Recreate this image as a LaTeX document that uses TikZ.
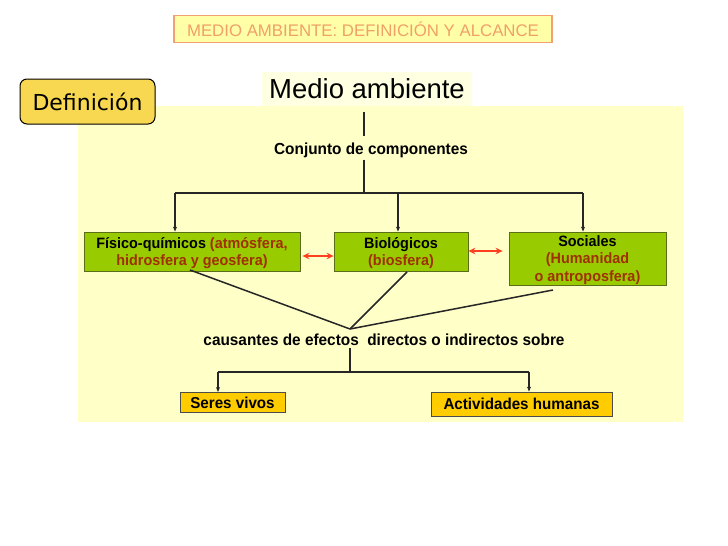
\documentclass[tikz,border=0pt]{standalone}
\usepackage{fontspec}
\setmainfont{Liberation Sans}
\newfontfamily\widebf[FakeStretch=0.96]{Liberation Sans Bold}
\newfontfamily\comicfont{DejaVu Sans}
\usetikzlibrary{arrows.meta}
\definecolor{titlefill}{HTML}{FFFFA8}
\definecolor{titleline}{HTML}{F2A070}
\definecolor{titletext}{HTML}{F0A068}
\definecolor{bgyellow}{HTML}{FFFFC8}
\definecolor{medfill}{HTML}{FFFFE2}
\definecolor{defgold}{HTML}{F8D850}
\definecolor{boxgreen}{HTML}{99CC00}
\definecolor{greenline}{HTML}{5A6E1A}
\definecolor{brownred}{HTML}{A03000}
\definecolor{redarrow}{HTML}{FF4020}
\definecolor{goldbox}{HTML}{FFCC00}
\tikzset{
  greenbox/.style={draw=greenline, fill=boxgreen, line width=0.8pt, inner sep=0pt, align=center, text depth=0pt, font=\widebf\fontsize{15}{16.8}\selectfont},
  goldrect/.style={draw=black!70, fill=goldbox, line width=0.8pt, inner sep=0pt, font=\widebf\fontsize{15.8}{17}\selectfont},
  conn/.style={line width=1.5pt, black!85},
  arr/.style={line width=1.5pt, black!85, -{Stealth[length=5pt,width=4pt]}},
  redarr/.style={line width=1.8pt, redarrow, {Stealth[length=7pt,width=6.5pt]}-{Stealth[length=7pt,width=6.5pt]}},
  plain/.style={font=\widebf\fontsize{16}{18}\selectfont, inner sep=1pt},
}
\begin{document}
\begin{tikzpicture}[x=1pt,y=-1pt]
\useasboundingbox (0,0) rectangle (728,546);
\fill[white] (0,0) rectangle (728,546);
% title
\node[draw=titleline, fill=titlefill, line width=1.5pt, minimum width=378pt, minimum height=27pt, inner sep=0pt, text=titletext, font=\fontsize{16.8}{18}\selectfont] (title) at (363,29) {MEDIO AMBIENTE: DEFINICIÓN Y ALCANCE};
% background
\fill[bgyellow] (78,106) rectangle (683,422);
\node[fill=medfill, minimum width=210pt, minimum height=34pt, inner sep=0pt, font=\fontsize{27.5}{30}\selectfont] (medio) at (367,89) {Medio ambiente};
% Definicion
\node[draw=black, fill=defgold, rounded corners=7pt, line width=1pt, minimum width=135pt, minimum height=45pt, inner sep=0pt, font=\comicfont\fontsize{22}{24}\selectfont] (def) at (87.5,101.5) {Definición};
% Conjunto
\node[plain] (conj) at (371,150) {Conjunto de componentes};
\coordinate (top1) at (364,112);
\coordinate (top2) at (364,136);
\draw[conn] (top1) -- (top2);
% boxes
\node[greenbox, minimum width=216pt, minimum height=39pt] (fis) at (192,251.5) {Físico-químicos \textcolor{brownred}{(atmósfera,}\\\textcolor{brownred}{hidrosfera y geosfera)}};
\node[greenbox, minimum width=134pt, minimum height=39pt] (bio) at (401,251.5) {Biológicos\\\textcolor{brownred}{(biosfera)}};
\node[greenbox, minimum width=157pt, minimum height=53pt, font=\widebf\fontsize{15}{17.5}\selectfont] (soc) at (587.5,258.5) {Sociales\\\textcolor{brownred}{(Humanidad}\\\textcolor{brownred}{o antroposfera)}};
\coordinate (j1) at (364,193);
\draw[conn] ([yshift=-1pt]conj.south -| j1) -- (j1);
\draw[conn] (175,193) -- (583,193);
\draw[arr] (175,193) -- (fis.north -| 175,0);
\draw[arr] (398,193) -- (bio.north -| 398,0);
\draw[arr] (583,193) -- (soc.north -| 583,0);
% red arrows
\draw[redarr] ([xshift=2pt]fis.east |- 0,256) -- (bio.west |- 0,256);
\draw[redarr] (bio.east |- 0,251) -- ([xshift=-6pt]soc.west |- 0,251);
% convergence
\coordinate (conv) at (350,329);
\draw[conn] (190,270) -- (conv);
\draw[conn] (407,272) -- (conv);
\draw[conn] (553,290) -- (conv);
\node[plain] (caus) at (384,340) {causantes de efectos\ \ directos o indirectos sobre};
% lower
\node[goldrect, minimum width=105pt, minimum height=20pt] (seres) at (232.5,402.5) {Seres vivos};
\node[goldrect, minimum width=181pt, minimum height=24pt] (act) at (521.5,404) {Actividades humanas};
\coordinate (j2) at (350,372);
\draw[conn, line width=2pt] ([yshift=-1pt]caus.south -| j2) -- (j2);
\draw[conn, line width=2pt] (218,372) -- (529,372);
\draw[arr] (218,372) -- (seres.north -| 218,0);
\draw[arr] (529,372) -- (act.north -| 529,0);
\end{tikzpicture}
\end{document}
